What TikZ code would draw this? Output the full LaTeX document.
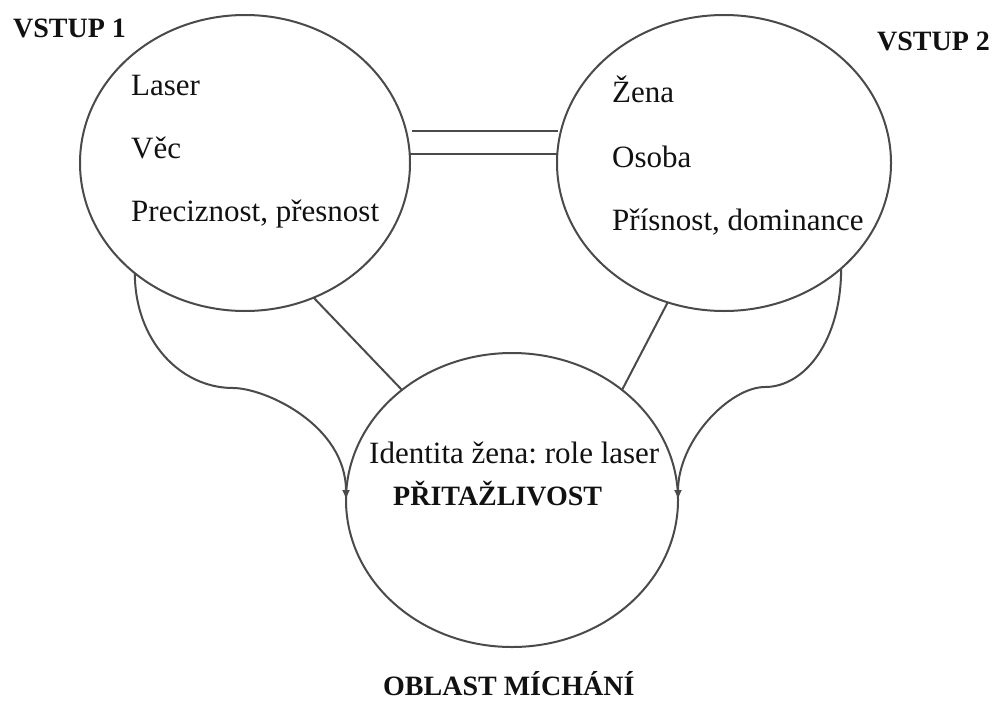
\documentclass[tikz,border=0pt]{standalone}
\usepackage{fontspec}
\setmainfont{Liberation Serif}
\usetikzlibrary{shapes.geometric,arrows.meta}
\definecolor{linegray}{HTML}{4A4A4A}
\definecolor{ink}{HTML}{111111}
\frenchspacing
\tikzset{
  bubble/.style={draw=linegray, line width=2pt, ellipse, inner sep=0pt, outer sep=0pt},
  link/.style={draw=linegray, line width=2pt},
  flow/.style={draw=linegray, line width=2pt, -{Latex[length=10pt,width=8pt]}},
  item/.style={anchor=base west, inner sep=0pt, text=ink, font=\fontsize{31}{37}\selectfont},
  head/.style={anchor=base west, inner sep=0pt, text=ink, font=\fontsize{28}{34}\selectfont\bfseries},
}
\begin{document}
\begin{tikzpicture}[x=1pt,y=-1pt]
\useasboundingbox (0,0) rectangle (1000,704);

% the three areas
\node[bubble, minimum width=330pt, minimum height=296pt] (in1) at (245,163) {};
\node[bubble, minimum width=334pt, minimum height=296pt] (in2) at (724,163) {};
\node[bubble, minimum width=332pt, minimum height=294pt] (mix) at (512,500) {};

% headings
\node[head] (h1) at (13,37) {VSTUP 1};
\node[head] (h2) at (877,50) {VSTUP 2};
\node[head] (h3) at (383,695) {OBLAST MÍCHÁNÍ};

% contents of the input areas
\node[item] (a1) at (131,95) {Laser};
\node[item] (a2) at (131,158) {Věc};
\node[item] (a3) at (131,221) {Preciznost, přesnost};
\node[item] (b1) at (612,102) {Žena};
\node[item] (b2) at (612,167) {Osoba};
\node[item] (b3) at (612,230) {Přísnost, dominance};

% contents of the blend area
\node[item] (c1) at (369,463) {Identita žena: role laser};
\node[head] (c2) at (393,505) {PŘITAŽLIVOST};

% double link between the inputs
\coordinate (t1) at (412,131);
\coordinate (t2) at (558,131);
\draw[link] (t1) -- (t2);
\draw[link] (in1.3.8) -- (in1.3.8 -| in2.west);

% straight links down to the blend
\draw[link] (in1.-63.3) -- (mix.135.5);
\draw[link] (in2.-112.6) -- (mix.45.3);

% curved projections into the blend
\coordinate (bendL) at (233,388);
\coordinate (bendR) at (765,387);
\draw[flow] (in1.-135.8) .. controls +(0,67) and +(-53,0) .. (bendL)
  .. controls +(32,0) and +(0,-75) .. (mix.west);
\draw[flow] (in2.-42.7) .. controls +(0,72) and +(40,0) .. (bendR)
  .. controls +(-35,0) and +(0,-60) .. (mix.east);
\end{tikzpicture}
\end{document}
